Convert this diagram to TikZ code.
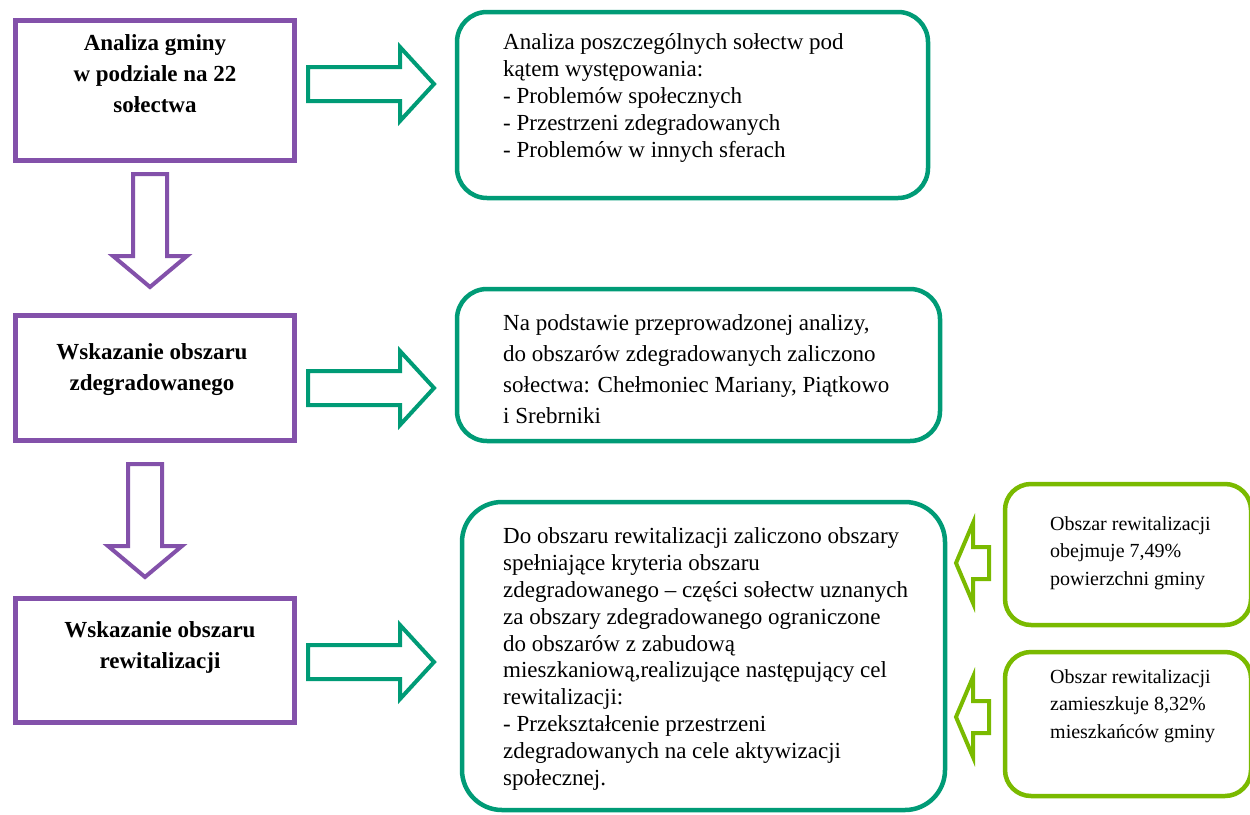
\documentclass[tikz,border=0pt]{standalone}
\usepackage{fontspec}
\setmainfont{Liberation Serif}
\usetikzlibrary{positioning}
\definecolor{stepviolet}{RGB}{131, 81, 170}
\definecolor{boxteal}{RGB}{0, 155, 118}
\definecolor{notelime}{RGB}{122, 186, 0}

\tikzset{
  stagebox/.style={draw=stepviolet, line width=5pt, minimum width=279pt, inner sep=0pt},
  infobox/.style={draw=boxteal, line width=4.5pt, rounded corners=30pt, inner sep=0pt},
  notebox/.style={draw=notelime, line width=4.5pt, rounded corners=26pt, inner sep=0pt},
  stagetext/.style={font=\fontsize{23}{31}\selectfont\bfseries, align=center, anchor=base, inner sep=0pt},
  infotext/.style={font=\fontsize{23}{26.8}\selectfont, align=left, anchor=base west, inner sep=0pt},
  notetext/.style={font=\fontsize{20}{27.5}\selectfont, align=left, anchor=base west, inner sep=0pt},
  pics/rightarr/.style={code={
    \draw[boxteal, line width=4pt, fill=white] (0,-17) -- (92,-17) -- (92,-37) -- (126,0) -- (92,37) -- (92,17) -- (0,17) -- cycle;}},
  pics/downarr/.style={code={
    \draw[stepviolet, line width=4pt, fill=white] (-17,0) -- (-17,82) -- (-37,82) -- (0,113) -- (37,82) -- (17,82) -- (17,0) -- cycle;}},
  pics/leftarr/.style={code={
    \draw[notelime, line width=4pt, fill=white] (0,-16) -- (-16,-16) -- (-16,-40) -- (-33,0) -- (-16,40) -- (-16,16) -- (0,16) -- cycle;}}
}

\begin{document}
\begin{tikzpicture}[x=1pt, y=-1pt]
  \useasboundingbox (0,0) rectangle (1250,814);
  \clip (0,0) rectangle (1250,814);

  % stages on the left (text placed at the baseline of its last line)
  \node[stagebox, minimum height=140pt] (gmina) at (154.5,90.5) {};
  \node[stagetext] (gminatxt) at (155,112) {Analiza gminy\\w podziale na 22\\sołectwa};

  \node[stagebox, minimum height=125pt] (zdegr) at (154.5,378) {};
  \node[stagetext] (zdegrtxt) at (152,390) {Wskazanie obszaru\\zdegradowanego};

  \node[stagebox, minimum height=124pt] (rewit) at (154.5,660.5) {};
  \node[stagetext] (rewittxt) at (160,668) {Wskazanie obszaru\\rewitalizacji};

  \pic at (150,174) {downarr};
  \pic at (145,464) {downarr};

  % descriptions
  \node[infobox, minimum width=471pt, minimum height=186pt] (solectwa) at (692.5,105) {};
  \node[infotext] (solectwatxt) at (503,157) {Analiza poszczególnych sołectw pod\\kątem występowania:\\- Problemów społecznych\\- Przestrzeni zdegradowanych\\- Problemów w innych sferach};

  \node[infobox, minimum width=483pt, minimum height=152pt] (wynik) at (698.5,365) {};
  \node[infotext, font=\fontsize{23}{31}\selectfont] (wyniktxt) at (503,423) {Na podstawie przeprowadzonej analizy,\\do obszarów zdegradowanych zaliczono\\sołectwa: Chełmoniec Mariany, Piątkowo\\i Srebrniki};

  \node[infobox, rounded corners=40pt, minimum width=483pt, minimum height=308pt] (obszar) at (703.5,656) {};
  \node[infotext] (obszartxt) at (503,785) {Do obszaru rewitalizacji zaliczono obszary\\spełniające kryteria obszaru\\zdegradowanego – części sołectw uznanych\\za obszary zdegradowanego ograniczone\\do obszarów z zabudową\\mieszkaniową,realizujące następujący cel\\rewitalizacji:\\- Przekształcenie przestrzeni\\zdegradowanych na cele aktywizacji\\społecznej.};

  \pic at (308,84) {rightarr};
  \pic at (308,388) {rightarr};
  \pic at (308,662) {rightarr};

  % figures on the right
  \node[notebox, minimum width=246pt, minimum height=141pt] (pow) at (1128,554.5) {};
  \node[notetext] (powtxt) at (1050,585) {Obszar rewitalizacji\\obejmuje 7,49\%\\powierzchni gminy};

  \node[notebox, minimum width=246pt, minimum height=144pt] (miesz) at (1128,724) {};
  \node[notetext] (mieszttxt) at (1050,738) {Obszar rewitalizacji\\zamieszkuje 8,32\%\\mieszkańców gminy};

  \pic at (989,563) {leftarr};
  \pic at (989,717) {leftarr};
\end{tikzpicture}
\end{document}
